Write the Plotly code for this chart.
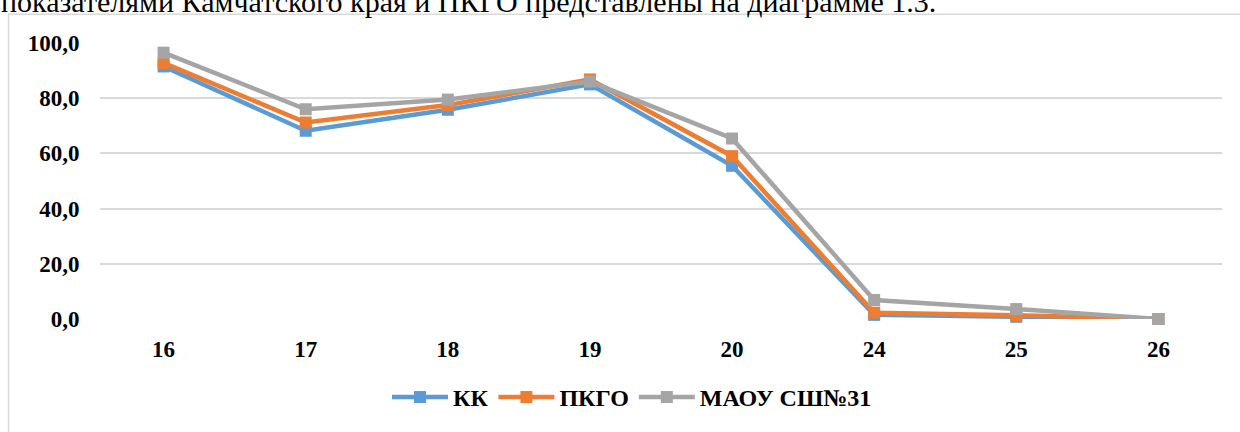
import plotly.graph_objects as go

categories = ["16", "17", "18", "19", "20", "24", "25", "26"]
kk = [91.5, 68.2, 75.8, 85.0, 55.5, 1.5, 0.8, 0.0]
pkgo = [92.8, 71.2, 77.5, 86.8, 59.0, 2.3, 1.4, 0.0]
maou = [96.5, 76.0, 79.5, 86.0, 65.4, 6.9, 3.6, 0.0]
y_ticks = [0, 20, 40, 60, 80, 100]
y_tick_labels = ["0,0", "20,0", "40,0", "60,0", "80,0", "100,0"]

series = [
    ("КК", kk, "#5B9BD5"),
    ("ПКГО", pkgo, "#ED7D31"),
    ("МАОУ СШ№31", maou, "#A5A5A5"),
]

fig = go.Figure()
for name, vals, col in series:
    fig.add_trace(go.Scatter(
        x=categories, y=vals, name=name, mode="lines+markers",
        line=dict(color=col, width=4.5),
        marker=dict(symbol="square", size=12, color=col),
        cliponaxis=False,
    ))

W, H = 1240, 432
L, R, T, B = 100, 18, 43, 111
pw, ph = W - L - R, H - T - B

def px_x(px):
    return (px - L) / pw

def px_y(py):
    return (H - B - py) / ph

font_family = "Liberation Serif, Times New Roman, serif"

fig.update_layout(
    width=W, height=H,
    margin=dict(l=L, r=R, t=T, b=B, pad=0),
    paper_bgcolor="white", plot_bgcolor="white",
    font=dict(family=font_family, color="black"),
    showlegend=True,
    legend=dict(
        orientation="h", x=px_x(632), xanchor="center",
        y=px_y(400), yanchor="middle",
        font=dict(family=font_family, size=24, color="black", weight="bold"),
        itemwidth=56, traceorder="normal",
    ),
    xaxis=dict(
        type="category", showgrid=False, zeroline=False, showline=False,
        tickfont=dict(family=font_family, size=23, color="black", weight="bold"),
        ticks="outside", ticklen=9, tickcolor="rgba(0,0,0,0)",
        fixedrange=True,
    ),
    yaxis=dict(
        range=[0, 100], tickvals=y_ticks, ticktext=y_tick_labels,
        showgrid=True, gridcolor="#d9d9d9", gridwidth=1.5,
        zeroline=False, showline=False,
        tickfont=dict(family=font_family, size=23, color="black", weight="bold"),
        ticks="outside", ticklen=15, tickcolor="rgba(0,0,0,0)",
        fixedrange=True,
    ),
    shapes=[dict(
        type="rect", xref="paper", yref="paper",
        x0=px_x(8.5), x1=px_x(1300), y0=px_y(14), y1=px_y(500),
        line=dict(color="#d9d9d9", width=1.5), fillcolor="rgba(0,0,0,0)",
        layer="below",
    )],
    annotations=[dict(
        text="показателями Камчатского края и ПКГО представлены на диаграмме 1.3.",
        xref="paper", yref="paper", x=px_x(-1), y=px_y(12),
        xanchor="left", yanchor="bottom", showarrow=False,
        font=dict(family=font_family, size=30, color="black"),
        yshift=-8,
    )],
)

fig.write_html(
    "out.html",
    config={"displayModeBar": False},
    post_script="document.body.style.margin='0';document.body.style.overflow='hidden';",
)
